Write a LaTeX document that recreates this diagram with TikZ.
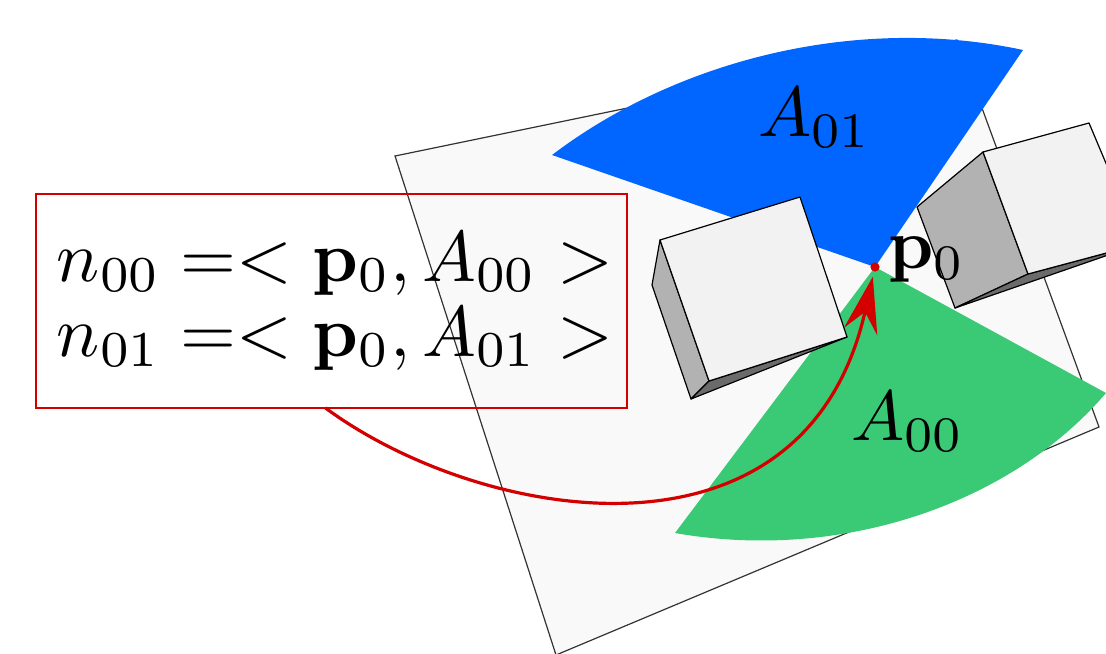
\documentclass[tikz,border=0pt]{standalone}
\usepackage{xcolor}
\usepackage{tikz}
\usetikzlibrary{positioning, arrows.meta, calc}
\definecolor{sectorblue}{HTML}{0066FF}
\definecolor{sectorgreen}{HTML}{3AC974}
\definecolor{markred}{HTML}{D40000}
\definecolor{planegray}{HTML}{F9F9F9}
\tikzset{
  cubeface/.style={draw=black, line width=0.6pt, line join=round},
  biglabel/.style={scale=3.55, transform shape, inner sep=0pt},
  boxlabel/.style={scale=3.59, transform shape, font=\fontsize{10}{10.44}\selectfont, outer sep=0pt,
    inner xsep=2.92pt, inner ysep=0pt, text width=76.46pt, minimum height=29.8pt, align=left},
}

\begin{document}
\begin{tikzpicture}[x=0.5pt, y=-0.5pt]
  \useasboundingbox (0,0) rectangle (1106,653);
  \begin{scope}
    \clip (0,0) rectangle (1106,653);
    % plane
    \draw[fill=planegray, draw=black!80, line width=0.6pt]
      (395,156) -- (957,40) -- (1099,427) -- (556,655) -- cycle;
    % sectors
    \coordinate (p0) at (875,267);
    \fill[sectorblue] (p0) -- (552,155) .. controls (680,58) and (860,15) .. (1023,50) -- cycle;
    \fill[sectorgreen] (p0) -- (1106,393) .. controls (1010,505) and (840,562) .. (675,533) -- cycle;
    % left cube
    \draw[cubeface, fill=black!30] (660,240) -- (652,285) -- (691,399) -- (709,381) -- cycle;
    \draw[cubeface, fill=black!58] (691,399) -- (847,337) -- (709,381) -- cycle;
    \draw[cubeface, fill=black!5] (660,240) -- (800,197) -- (847,337) -- (709,381) -- cycle;
    % right cube
    \draw[cubeface, fill=black!30] (983,152) -- (917,207) -- (955,308) -- (1028,274) -- cycle;
    \draw[cubeface, fill=black!58] (955,308) -- (1140,244) -- (1028,274) -- cycle;
    \draw[cubeface, fill=black!5] (983,152) -- (1089,123) -- (1140,244) -- (1028,274) -- cycle;
  \end{scope}
  \node[biglabel] (a01) at (815,118) {$A_{01}$};
  \node[biglabel] (a00) at (908,422) {$A_{00}$};
  \node[biglabel, anchor=west] (p0label) at (887,260) {$\mathbf{p}_0$};
  \node[boxlabel, anchor=north west] (nbox) at (36,194)
    {\mbox{$n_{00} =< \mathbf{p}_0, A_{00} >$}\\\mbox{$n_{01} =< \mathbf{p}_0, A_{01} >$}};
  \draw[markred, line width=1pt] (nbox.north west) rectangle (nbox.south east);
  \fill[markred] (p0) circle (2.3pt);
  \draw[markred, line width=1.6pt, -{Stealth[length=28pt, width=17pt, inset=10pt]}, shorten >=5pt]
    (nbox.south) ++(-6,0) .. controls (480,522) and (805,580) .. (p0);
\end{tikzpicture}
\end{document}
